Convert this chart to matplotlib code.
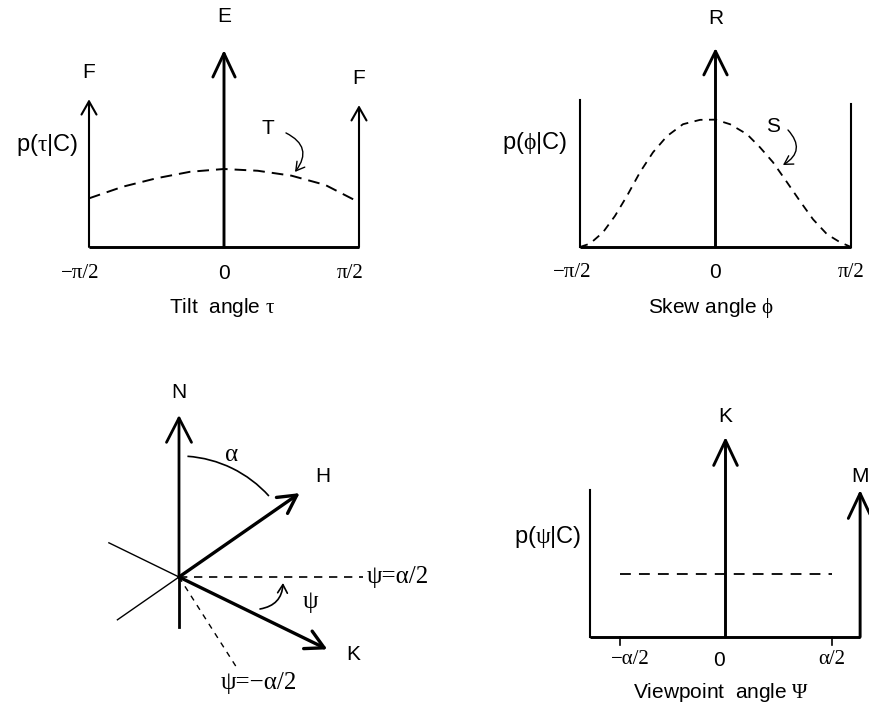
import numpy as np
import matplotlib.pyplot as plt
from matplotlib.patches import Arc

plt.rcParams['font.family'] = 'Liberation Sans'
plt.rcParams['mathtext.fontset'] = 'custom'
plt.rcParams['mathtext.rm'] = 'Liberation Serif'
plt.rcParams['mathtext.it'] = 'Liberation Serif'
plt.rcParams['mathtext.default'] = 'rm'

W, H = 869, 707
FS = 15

# tilt panel, angle in units of pi/2
tilt_u = [-1, -0.75, -0.5, -0.25, 0, 0.25, 0.5, 0.75, 1]
tilt_p = [0.247, 0.306, 0.349, 0.382, 0.396, 0.387, 0.362, 0.315, 0.227]
tilt_spike_u = [-1, 0, 1]
tilt_spike_h = [0.75, 1.0, 0.72]
tilt_spike_lab = ['F', 'E', 'F']

# skew panel, angle in units of pi/2
skew_u = [-1, -0.926, -0.83, -0.742, -0.653, -0.557, -0.461, -0.358, -0.24, -0.114, 0,
          0.107, 0.232, 0.328, 0.424, 0.528, 0.624, 0.72, 0.823, 0.919, 1]
skew_p = [0, 0.017, 0.074, 0.156, 0.257, 0.376, 0.476, 0.557, 0.617, 0.639, 0.64,
          0.617, 0.567, 0.501, 0.426, 0.325, 0.230, 0.139, 0.064, 0.024, 0]
skew_wall_h = [0.74, 0.72]
skew_spike_h = 1.0

# viewpoint geometry (angles in degrees, lengths in drawing units)
n_len, n_tail = 162, 50
h_ang, h_len, h_back = 34.8, 147, 75
k_ang, k_len, k_back = -26, 165, 78
half_len = 184
neg_ang, neg_len = -57.5, 108
alpha_r, alpha_from, alpha_to = 121, 42, 86

# viewpoint distribution, angle in units of alpha/2
view_lim = [-1.28, 1.27]
view_wall_h = 0.735
view_spike_u = [0, 1.27]
view_spike_h = [1.0, 0.735]
view_spike_lab = ['K', 'M']
view_u = [-1, 1]
view_p = [0.315, 0.315]
view_ticks = [-1, 1]


def panel(fig, x0, x1, y0, y1, xlim, ylim):
    # x0,x1,y0,y1 are pixel positions of the xlim/ylim ends (y from top)
    ax = fig.add_axes([x0 / W, (H - y0) / H, (x1 - x0) / W, (y0 - y1) / H])
    ax.set_xlim(xlim)
    ax.set_ylim(ylim)
    ax.axis('off')
    return ax


def arrow(ax, p0, p1, lw, hl, hw, rad=0.0):
    ax.annotate('', xy=p1, xytext=p0, annotation_clip=False,
                arrowprops=dict(arrowstyle='->,head_length=%g,head_width=%g' % (hl, hw),
                                mutation_scale=1, lw=lw, color='black',
                                shrinkA=0, shrinkB=0,
                                connectionstyle='arc3,rad=%g' % rad))


def txt(ax, x, y, s, fam=None, ha='center', size=FS):
    kw = dict(ha=ha, va='center', fontsize=size, clip_on=False)
    if fam:
        kw['family'] = fam
    ax.text(x, y, s, **kw)


fig = plt.figure(figsize=(W / 100, H / 100), dpi=100)

# ---- tilt
ax = panel(fig, 89, 359, 247, 50, (-1, 1), (0, 1))
ax.plot([-1, 1], [0, 0], color='black', lw=2.1, clip_on=False, solid_capstyle='butt')
ax.plot(tilt_u, tilt_p, color='black', lw=1.4, ls=(0, (6, 3.6)), clip_on=False)
for u, h, lab in zip(tilt_spike_u, tilt_spike_h, tilt_spike_lab):
    if lab == 'E':
        arrow(ax, (u, 0), (u, h), 2.1, 17, 8)
        txt(ax, u, h + 0.17, lab)
    else:
        arrow(ax, (u, 0), (u, h), 1.5, 9.5, 5.4)
        txt(ax, u, h + 0.135, lab)
txt(ax, -1.311, 0.518, r'p($\tau$|C)', size=17)
txt(ax, 0.326, 0.599, 'T')
arrow(ax, (0.459, 0.579), (0.526, 0.381), 1.0, 6, 3.5, rad=-0.6)
txt(ax, -1.067, -0.132, '\u2212\u03c0/2', fam='Liberation Serif')
txt(ax, 0, -0.132, '0')
txt(ax, 0.933, -0.132, '\u03c0/2', fam='Liberation Serif')
txt(ax, -0.01, -0.305, r'Tilt  angle $\tau$')

# ---- skew
ax = panel(fig, 580, 851, 247, 48, (-1, 1), (0, 1))
ax.plot([-1, 1], [0, 0], color='black', lw=2.1, clip_on=False, solid_capstyle='butt')
ax.plot([-1, -1], [0, skew_wall_h[0]], color='black', lw=1.5, clip_on=False)
ax.plot([1, 1], [0, skew_wall_h[1]], color='black', lw=1.5, clip_on=False)
ax.plot(skew_u, skew_p, color='black', lw=1.3, ls=(0, (4.5, 3.6)), clip_on=False)
arrow(ax, (0, 0), (0, skew_spike_h), 2.1, 17, 8.4)
txt(ax, 0, 1.15, 'R')
txt(ax, -1.332, 0.523, r'p($\phi$|C)', size=17)
txt(ax, 0.424, 0.608, 'S')
arrow(ax, (0.535, 0.588), (0.498, 0.412), 1.0, 6, 3.5, rad=-0.6)
txt(ax, -1.06, -0.126, '\u2212\u03c0/2', fam='Liberation Serif')
txt(ax, 0, -0.126, '0')
txt(ax, 1.0, -0.126, '\u03c0/2', fam='Liberation Serif')
txt(ax, -0.033, -0.307, r'Skew angle $\phi$')

# ---- viewpoint geometry
ax = panel(fig, 100, 460, 700, 380, (-79, 281), (-123, 197))


def ends(ang, length):
    a = np.radians(ang)
    return length * np.cos(a), length * np.sin(a)


for ang, back in [(h_ang, h_back), (k_ang, k_back)]:
    bx, by = ends(ang + 180, back)
    ax.plot([0, bx], [0, by], color='black', lw=1.0, clip_on=False)
ax.plot([0, 0], [-n_tail, 0], color='black', lw=2.0, clip_on=False)
arrow(ax, (0, 0), (0, n_len), 2.0, 17.5, 9)
arrow(ax, (0, 0), ends(h_ang, h_len), 2.4, 13, 7)
arrow(ax, (0, 0), ends(k_ang, k_len), 2.4, 13, 7)
ax.plot([0, half_len], [0, 0], color='black', lw=1.2, ls=(0, (5, 4)), clip_on=False)
nx, ny = ends(neg_ang, neg_len)
ax.plot([0, nx], [0, ny], color='black', lw=1.0, ls=(0, (4, 4)), clip_on=False)
ax.add_patch(Arc((0, 0), 2 * alpha_r, 2 * alpha_r, theta1=alpha_from, theta2=alpha_to,
                 lw=1.2, color='black', clip_on=False))
arrow(ax, (81, -32), (104, -6), 1.2, 6, 3.5, rad=0.4)
txt(ax, 0, 185, 'N')
txt(ax, 144, 101, 'H')
txt(ax, 53, 122, '\u03b1', fam='Liberation Serif', size=18)
txt(ax, 188, 0, '\u03c8=\u03b1/2', fam='Liberation Serif', ha='left', size=18)
txt(ax, 174, -78, 'K')
txt(ax, 131, -25, '\u03c8', fam='Liberation Serif', size=18)
txt(ax, 80, -106, '\u03c8=\u2212\u03b1/2', fam='Liberation Serif', size=18)

# ---- viewpoint distribution
ax = panel(fig, 619.5, 831.5, 637, 437, (-1, 1), (0, 1))
ax.plot(view_lim, [0, 0], color='black', lw=2.1, clip_on=False, solid_capstyle='butt')
ax.plot([view_lim[0]] * 2, [0, view_wall_h], color='black', lw=1.5, clip_on=False)
ax.plot(view_u, view_p, color='black', lw=1.3, ls=(0, (6, 4.5)), clip_on=False)
for t in view_ticks:
    ax.plot([t, t], [0, -0.04], color='black', lw=1.2, clip_on=False)
for u, h, lab in zip(view_spike_u, view_spike_h, view_spike_lab):
    arrow(ax, (u, 0), (u, h), 2.1, 18, 8.5)
txt(ax, 0, 1.10, 'K')
txt(ax, 1.27, 0.80, 'M')
txt(ax, -1.675, 0.5, r'p($\psi$|C)', size=17)
txt(ax, -0.90, -0.115, '\u2212\u03b1/2', fam='Liberation Serif')
txt(ax, -0.061, -0.115, '0')
txt(ax, 1.005, -0.115, '\u03b1/2', fam='Liberation Serif')
txt(ax, -0.042, -0.275, r'Viewpoint  angle $\Psi$')

fig.savefig('out.png', dpi=100)
